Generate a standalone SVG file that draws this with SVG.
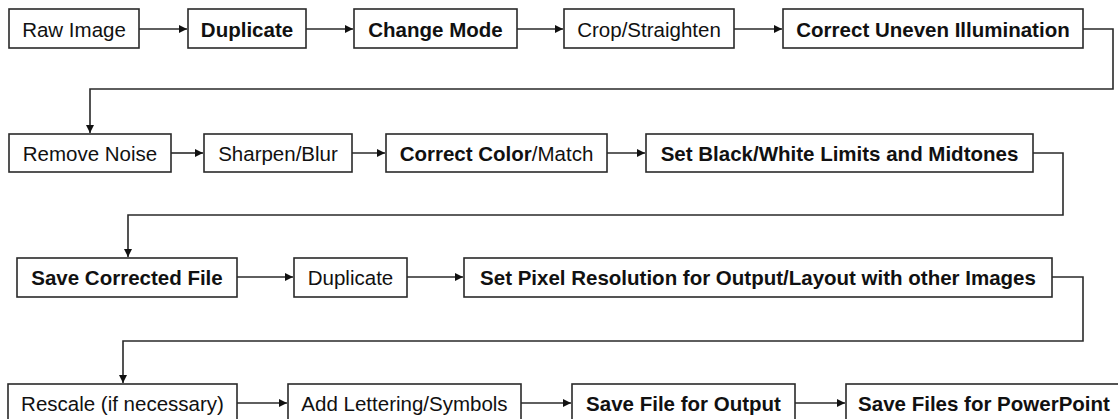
<svg xmlns="http://www.w3.org/2000/svg" width="1118" height="419" viewBox="0 0 1118 419">
<style>
.box{fill:#fff;stroke:#2a2a2a;stroke-width:1.6}
.t{font-family:"Liberation Sans",Arial,sans-serif;font-size:20.5px;fill:#111;text-anchor:middle}
.b{font-weight:bold}
.c{fill:none;stroke:#2a2a2a;stroke-width:1.6}
</style>
<defs>
<marker id="ah" viewBox="0 0 10 10" refX="10" refY="5" markerWidth="9" markerHeight="8" markerUnits="userSpaceOnUse" orient="auto">
<path d="M0,0 L10,5 L0,10 z" fill="#111"/>
</marker>
</defs>
<rect width="1118" height="419" fill="#fff"/>
<g id="connectors">
<path class="c" d="M139,29 H187" marker-end="url(#ah)"/>
<path class="c" d="M306,29 H353" marker-end="url(#ah)"/>
<path class="c" d="M517,29 H563" marker-end="url(#ah)"/>
<path class="c" d="M734,29 H782" marker-end="url(#ah)"/>
<path class="c" d="M1083,29 H1113 V89 H90 V133" marker-end="url(#ah)"/>
<path class="c" d="M171,153 H203" marker-end="url(#ah)"/>
<path class="c" d="M352,153 H385" marker-end="url(#ah)"/>
<path class="c" d="M607,153 H645" marker-end="url(#ah)"/>
<path class="c" d="M1033,153 H1063 V215 H128 V257" marker-end="url(#ah)"/>
<path class="c" d="M237,277 H293" marker-end="url(#ah)"/>
<path class="c" d="M407,277 H463" marker-end="url(#ah)"/>
<path class="c" d="M1052,277 H1083 V341 H123 V383" marker-end="url(#ah)"/>
<path class="c" d="M237,403 H287" marker-end="url(#ah)"/>
<path class="c" d="M521,403 H571" marker-end="url(#ah)"/>
<path class="c" d="M795,403 H845" marker-end="url(#ah)"/>
</g>
<g id="n1"><rect class="box" x="9" y="9" width="130" height="39"/><text class="t" x="74" y="36.5">Raw Image</text></g>
<g id="n2"><rect class="box" x="188" y="9" width="118" height="39"/><text class="t b" x="247" y="36.5">Duplicate</text></g>
<g id="n3"><rect class="box" x="354" y="9" width="163" height="39"/><text class="t b" x="435.5" y="36.5">Change Mode</text></g>
<g id="n4"><rect class="box" x="564" y="9" width="170" height="39"/><text class="t" x="649" y="36.5">Crop/Straighten</text></g>
<g id="n5"><rect class="box" x="783" y="9" width="300" height="39"/><text class="t b" x="933" y="36.5">Correct Uneven Illumination</text></g>
<g id="n6"><rect class="box" x="9" y="134" width="162" height="38"/><text class="t" x="90" y="160.5">Remove Noise</text></g>
<g id="n7"><rect class="box" x="204" y="134" width="148" height="38"/><text class="t" x="278" y="160.5">Sharpen/Blur</text></g>
<g id="n8"><rect class="box" x="386" y="134" width="221" height="38"/><text class="t" x="496.5" y="160.5"><tspan class="b">Correct Color</tspan>/Match</text></g>
<g id="n9"><rect class="box" x="646" y="134" width="387" height="38"/><text class="t b" x="839.5" y="160.5">Set Black/White Limits and Midtones</text></g>
<g id="n10"><rect class="box" x="17" y="258" width="220" height="39"/><text class="t b" x="127" y="284.5">Save Corrected File</text></g>
<g id="n11"><rect class="box" x="294" y="258" width="113" height="39"/><text class="t" x="350.5" y="284.5">Duplicate</text></g>
<g id="n12"><rect class="box" x="464" y="258" width="588" height="39"/><text class="t b" x="758" y="284.5">Set Pixel Resolution for Output/Layout with other Images</text></g>
<g id="n13"><rect class="box" x="8" y="384" width="229" height="39"/><text class="t" x="122.5" y="410.5">Rescale (if necessary)</text></g>
<g id="n14"><rect class="box" x="288" y="384" width="233" height="39"/><text class="t" x="404.5" y="410.5">Add Lettering/Symbols</text></g>
<g id="n15"><rect class="box" x="572" y="384" width="223" height="39"/><text class="t b" x="683.5" y="410.5">Save File for Output</text></g>
<g id="n16"><rect class="box" x="846" y="384" width="280" height="39"/><text class="t b" x="984" y="410.5">Save Files for PowerPoint</text></g>
</svg>
